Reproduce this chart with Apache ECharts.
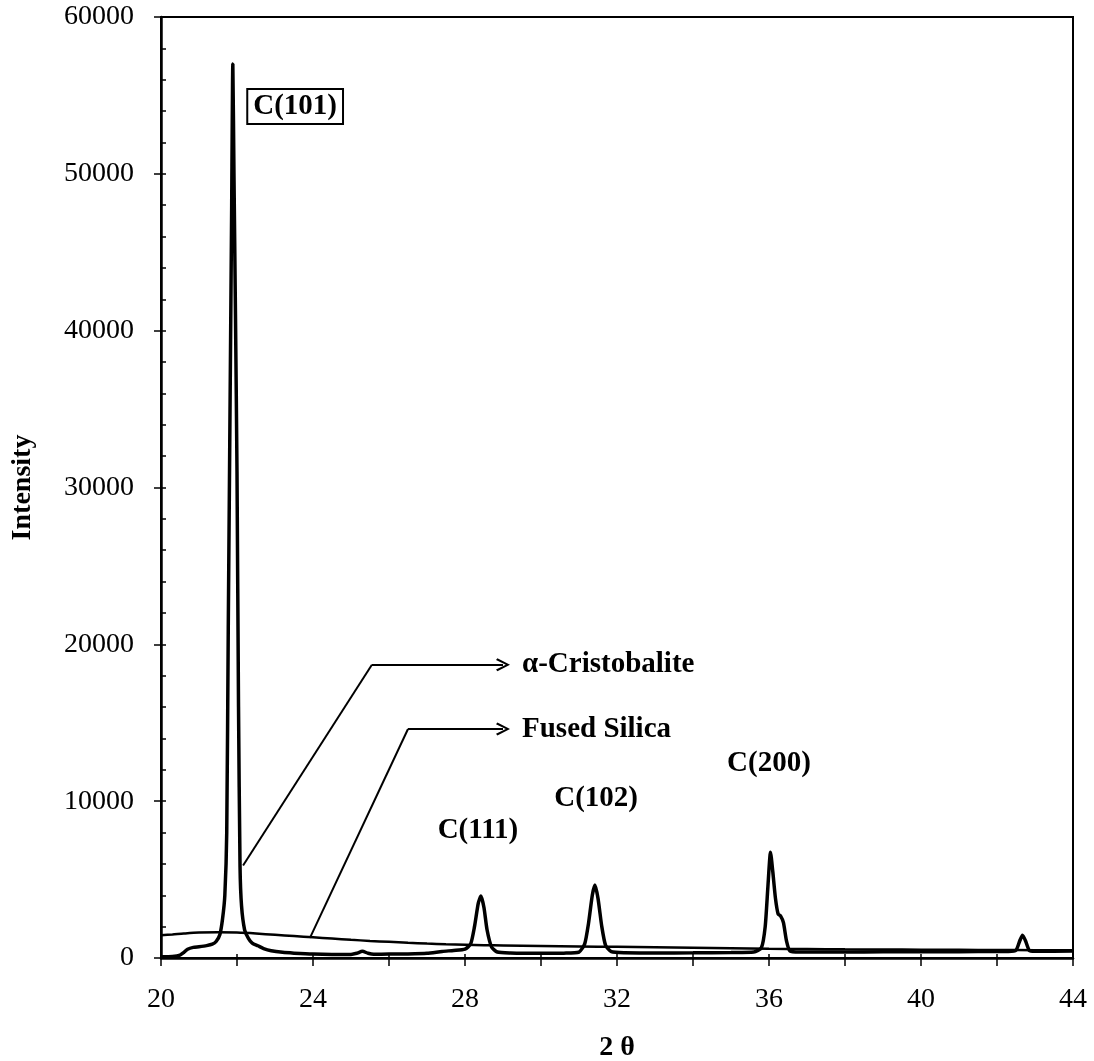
<!DOCTYPE html>
<html>
<head>
<meta charset="utf-8">
<script src="https://cdn.jsdelivr.net/npm/echarts@6/dist/echarts.min.js"></script>
<style>
  html, body { margin: 0; padding: 0; background: #fff; }
  #chart { width: 1094px; height: 1061px; }
</style>
</head>
<body>
<div id="chart"></div>
<script>
// 2-theta positions (deg) and intensities
const cristobaliteX = [
  20.0, 20.3, 20.5, 20.6, 20.7, 20.85, 21.0, 21.2, 21.35, 21.45, 21.55, 21.62, 21.68, 21.73,
  21.77, 21.82, 21.86, 21.89, 21.92, 21.96, 22.0, 22.04, 22.08, 22.12, 22.2, 22.3, 22.4, 22.55,
  22.7, 22.9, 23.2, 23.5, 24.0, 24.5, 25.0, 25.15, 25.3, 25.45, 25.6, 26.0, 26.5, 27.0, 27.4,
  27.7, 28.0, 28.15, 28.25, 28.35, 28.42, 28.5, 28.58, 28.7, 28.85, 29.2, 30.0, 30.6, 31.0,
  31.15, 31.25, 31.35, 31.42, 31.5, 31.6, 31.7, 31.85, 32.2, 33.0, 34.0, 35.0, 35.6, 35.8,
  35.9, 35.97, 36.04, 36.1, 36.17, 36.24, 36.3, 36.38, 36.46, 36.55, 36.8, 37.5, 38.5, 39.5,
  40.5, 41.5, 42.3, 42.5, 42.6, 42.67, 42.75, 42.85, 43.0, 44.0
];
const cristobaliteY = [
  80, 100, 180, 350, 560, 680, 720, 790, 880, 1050, 1500, 2500, 4000, 8000,
  21000, 36000, 48000, 57000, 50000, 41000, 31000, 16000, 5800, 3300, 1800, 1250, 950, 780,
  600, 460, 360, 310, 250, 230, 230, 300, 430, 300, 240, 250, 260, 300, 420,
  480, 560, 900, 2000, 3500, 3950, 3200, 1800, 700, 380, 320, 300, 310, 380,
  900, 2200, 4000, 4650, 3800, 2000, 800, 400, 330, 320, 330, 350, 380, 650,
  2000, 4500, 6750, 5500, 3800, 2800, 2700, 2250, 1100, 450, 380, 380, 390, 400,
  400, 410, 420, 500, 1100, 1450, 1100, 480, 430, 450
];

const fusedX = [
  20.0, 20.3, 20.6, 21.0, 21.5, 22.0, 22.5, 23.0, 23.5, 24.0, 24.5, 25.0, 25.5, 26.0, 26.5,
  27.0, 27.5, 28.0, 28.5, 29.0, 30.0, 31.0, 32.0, 33.0, 34.0, 35.0, 36.0, 37.0, 38.0, 39.0,
  40.0, 41.0, 42.0, 43.0, 44.0
];
const fusedY = [
  1450, 1500, 1560, 1620, 1640, 1620, 1560, 1480, 1400, 1320, 1240, 1160, 1090, 1030, 970,
  920, 880, 850, 820, 800, 770, 740, 710, 680, 650, 620, 590, 570, 550, 540,
  530, 520, 510, 500, 490
];

const peakNames = ['C(101)', 'C(111)', 'C(102)', 'C(200)'];
const peakLabelAt = [[23.53, 54300], [28.34, 8100], [31.45, 10200], [36.0, 12400]];

const seriesNames = ['α-Cristobalite', 'Fused Silica'];
// leader lines: start on curve, bend, arrow tip (data coords)
const leaderPaths = [
  [[22.16, 5900], [25.55, 18700], [29.0, 18700]],
  [[23.92, 1280], [26.5, 14600], [29.0, 14600]]
];

const serif = '"Liberation Serif", "DejaVu Serif", serif';
const zip = (xs, ys) => xs.map((x, i) => [x, ys[i]]);
const chevron = 'path://M5,0 L10,9 L8.6,10 L5,3 L1.4,10 L0,9 Z';

const leaderData = [];
leaderPaths.forEach((path, k) => {
  leaderData.push([
    { coord: path[0], symbol: 'none' },
    { coord: path[1], symbol: 'none' }
  ]);
  leaderData.push([
    { coord: path[1], symbol: 'none' },
    {
      coord: path[2],
      symbol: chevron,
      symbolSize: [13, 14],
      label: {
        show: true,
        position: 'end',
        distance: 19,
        formatter: seriesNames[k],
        fontFamily: serif,
        fontWeight: 'bold',
        fontSize: 29,
        color: '#000'
      }
    }
  ]);
});

const chart = echarts.init(document.getElementById('chart'));
chart.setOption({
  animation: false,
  backgroundColor: '#fff',
  grid: {
    left: 161, right: 21, top: 17, bottom: 103,
    outerBoundsMode: 'none',
    containLabel: false,
    show: true, borderColor: '#000', borderWidth: 2
  },
  xAxis: [
    {
      type: 'value',
      min: 20, max: 44, interval: 2,
      name: '2 θ',
      nameLocation: 'middle',
      nameGap: 76,
      nameTextStyle: { fontFamily: serif, fontWeight: 'bold', fontSize: 28, color: '#000' },
      axisLine: { show: true, onZero: false, lineStyle: { color: '#000', width: 2.5 } },
      axisTick: { show: true, length: 8, lineStyle: { color: '#000', width: 1.5 } },
      axisLabel: {
        fontFamily: serif, fontSize: 28, color: '#000', margin: 28,
        formatter: (v) => (v % 4 === 0 ? String(v) : '')
      },
      splitLine: { show: false }
    },
    {
      type: 'value', position: 'bottom',
      min: 20, max: 44, interval: 2,
      axisLine: { show: false },
      axisTick: { show: true, inside: true, length: 4, lineStyle: { color: '#000', width: 1.5 } },
      axisLabel: { show: false },
      splitLine: { show: false }
    }
  ],
  yAxis: [
    {
      type: 'value',
      min: 0, max: 60000, interval: 10000,
      name: 'Intensity',
      nameLocation: 'middle',
      nameGap: 124,
      nameTextStyle: { fontFamily: serif, fontWeight: 'bold', fontSize: 28, color: '#000' },
      axisLine: { show: true, lineStyle: { color: '#000', width: 2.5 } },
      axisTick: { show: true, length: 7, lineStyle: { color: '#000', width: 1.5 } },
      axisLabel: {
        fontFamily: serif, fontSize: 28, color: '#000', margin: 27,
        formatter: (v) => String(v)
      },
      splitLine: { show: false }
    },
    {
      type: 'value', position: 'left',
      min: 0, max: 60000, interval: 2000,
      axisLine: { show: false },
      axisTick: { show: true, inside: true, length: 5, lineStyle: { color: '#000', width: 1.5 } },
      axisLabel: { show: false },
      splitLine: { show: false }
    }
  ],
  series: [
    {
      name: 'Fused Silica',
      type: 'line',
      data: zip(fusedX, fusedY),
      showSymbol: false,
      smooth: 0.3,
      lineStyle: { color: '#000', width: 2.5 },
      z: 3
    },
    {
      name: 'α-Cristobalite',
      type: 'line',
      data: zip(cristobaliteX, cristobaliteY),
      showSymbol: false,
      smooth: 0.2,
      lineStyle: { color: '#000', width: 3.5 },
      z: 4,
      markPoint: {
        silent: true,
        symbol: 'circle',
        symbolSize: 0,
        data: peakNames.map((name, i) => ({
          coord: peakLabelAt[i],
          label: {
            show: true,
            position: 'inside',
            formatter: name,
            fontFamily: serif,
            fontWeight: 'bold',
            fontSize: 29,
            color: '#000',
            ...(i === 0
              ? { borderColor: '#000', borderWidth: 2, padding: [3, 5, 1, 5], backgroundColor: '#fff' }
              : {})
          }
        }))
      },
      markLine: {
        silent: true,
        symbol: ['none', 'none'],
        lineStyle: { color: '#000', width: 2, type: 'solid' },
        label: { show: false },
        data: leaderData
      }
    }
  ]
});

window.addEventListener('resize', () => chart.resize());
</script>
</body>
</html>
